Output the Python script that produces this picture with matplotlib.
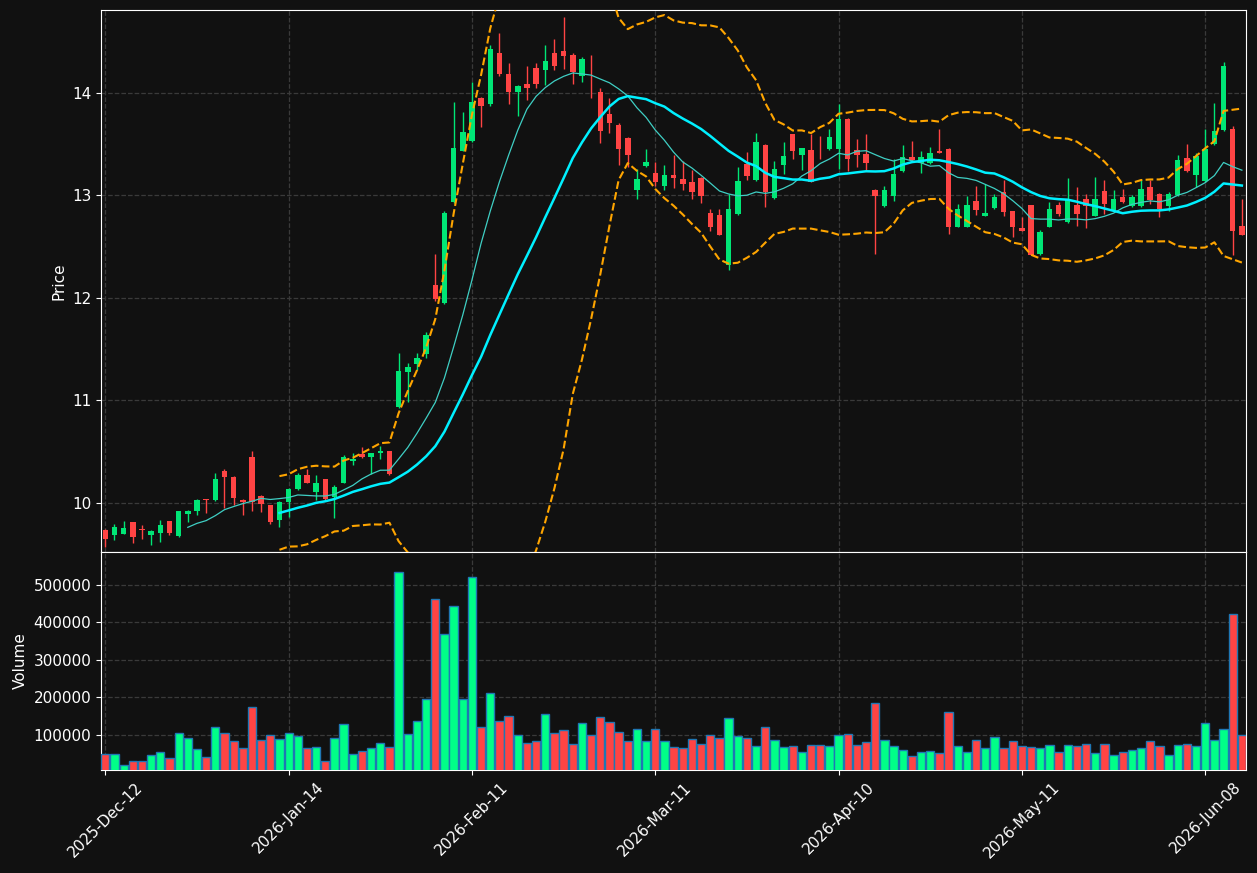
import matplotlib
matplotlib.use("Agg")
import matplotlib.pyplot as plt
from matplotlib.ticker import FuncFormatter
import numpy as np
import pandas as pd

# daily OHLC
opens = [9.731, 9.686, 9.696, 9.809, 9.744, 9.686, 9.705, 9.819, 9.676, 9.890,
         9.919, 10.032, 10.026, 10.314, 10.256, 10.032, 10.450, 10.068, 9.974, 9.828,
         10.006, 10.132, 10.275, 10.103, 10.232, 10.058, 10.190, 10.404, 10.475, 10.443,
         10.482, 10.508, 10.938, 11.278, 11.355, 11.453, 12.129, 11.948, 12.938, 13.433,
         13.530, 13.951, 13.890, 14.391, 14.187, 14.006, 14.090, 14.246, 14.220, 14.391,
         14.411, 14.375, 14.161, 14.071, 14.013, 13.799, 13.692, 13.560, 13.051, 13.291,
         13.216, 13.093, 13.200, 13.158, 13.136, 13.174, 12.828, 12.808, 12.326, 12.821,
         13.304, 13.151, 13.494, 12.977, 13.297, 13.595, 13.394, 13.439, 13.575, 13.452,
         13.449, 13.750, 13.439, 13.401, 13.058, 12.899, 12.996, 13.239, 13.378, 13.316,
         13.316, 13.436, 13.456, 12.695, 12.695, 12.941, 12.802, 12.880, 13.038, 12.844,
         12.682, 12.904, 12.424, 12.696, 12.906, 12.738, 12.906, 12.964, 12.803, 13.042,
         12.858, 12.984, 12.900, 12.900, 13.081, 13.019, 12.896, 13.000, 13.362, 13.201,
         13.139, 13.502, 13.638, 13.644, 12.702]
highs = [9.740, 9.789, 9.825, 9.810, 9.783, 9.731, 9.835, 9.820, 9.920, 9.930,
         10.040, 10.035, 10.291, 10.333, 10.260, 10.040, 10.508, 10.074, 9.975, 10.015,
         10.140, 10.291, 10.326, 10.275, 10.235, 10.177, 10.469, 10.488, 10.546, 10.490,
         10.559, 10.510, 11.459, 11.362, 11.459, 11.670, 12.427, 12.844, 13.912, 13.815,
         14.103, 13.960, 14.466, 14.582, 14.291, 14.080, 14.262, 14.291, 14.466, 14.524,
         14.741, 14.391, 14.356, 14.369, 14.051, 13.951, 13.710, 13.570, 13.262, 13.456,
         13.326, 13.301, 13.398, 13.336, 13.246, 13.180, 12.867, 12.867, 13.019, 13.281,
         13.420, 13.614, 13.500, 13.339, 13.517, 13.600, 13.460, 13.598, 13.580, 13.647,
         13.893, 13.760, 13.553, 13.595, 13.060, 13.093, 13.352, 13.494, 13.533, 13.436,
         13.475, 13.647, 13.460, 12.915, 12.996, 13.093, 13.113, 13.016, 13.155, 12.850,
         12.786, 12.910, 12.662, 12.939, 12.939, 13.168, 13.081, 13.019, 13.184, 13.146,
         13.058, 13.061, 13.000, 13.159, 13.146, 13.020, 13.029, 13.398, 13.505, 13.414,
         13.644, 13.906, 14.301, 13.680, 12.964]
lows = [9.573, 9.637, 9.696, 9.612, 9.647, 9.592, 9.618, 9.689, 9.666, 9.809,
        9.880, 9.900, 10.020, 9.951, 9.974, 9.880, 9.919, 9.909, 9.792, 9.763,
        9.860, 10.130, 10.190, 10.029, 10.032, 9.854, 10.190, 10.365, 10.440, 10.281,
        10.423, 10.268, 10.930, 10.980, 11.295, 11.417, 11.974, 11.940, 12.930, 13.430,
        13.520, 13.666, 13.874, 14.170, 13.890, 13.773, 13.932, 14.051, 14.081, 14.223,
        14.239, 14.087, 14.103, 13.951, 13.511, 13.611, 13.301, 13.278, 12.961, 13.280,
        13.093, 13.051, 13.074, 13.055, 12.961, 12.922, 12.653, 12.610, 12.271, 12.810,
        13.155, 13.140, 12.883, 12.970, 13.213, 13.355, 13.245, 13.130, 13.359, 13.440,
        13.258, 13.236, 13.278, 13.245, 12.427, 12.890, 12.944, 13.230, 13.340, 13.216,
        13.310, 13.410, 12.621, 12.690, 12.690, 12.808, 12.800, 12.870, 12.802, 12.598,
        12.650, 12.417, 12.420, 12.690, 12.803, 12.730, 12.702, 12.680, 12.800, 12.816,
        12.850, 12.930, 12.890, 12.890, 12.919, 12.786, 12.848, 12.990, 13.230, 13.084,
        13.130, 13.490, 13.630, 12.414, 12.610]
closes = [9.644, 9.760, 9.751, 9.667, 9.738, 9.722, 9.780, 9.705, 9.916, 9.925,
          10.032, 10.027, 10.236, 10.249, 10.045, 10.006, 10.010, 9.987, 9.809, 10.012,
          10.139, 10.275, 10.190, 10.197, 10.042, 10.158, 10.449, 10.430, 10.443, 10.488,
          10.508, 10.281, 11.284, 11.323, 11.418, 11.634, 11.987, 12.828, 13.459, 13.615,
          13.916, 13.870, 14.430, 14.181, 14.006, 14.071, 14.045, 14.084, 14.310, 14.262,
          14.365, 14.200, 14.336, 14.065, 13.627, 13.705, 13.453, 13.391, 13.158, 13.323,
          13.129, 13.200, 13.171, 13.113, 13.035, 12.996, 12.695, 12.617, 12.867, 13.139,
          13.190, 13.517, 13.035, 13.261, 13.381, 13.433, 13.459, 13.135, 13.569, 13.575,
          13.750, 13.355, 13.394, 13.316, 12.996, 13.058, 13.213, 13.378, 13.349, 13.378,
          13.417, 13.414, 12.695, 12.863, 12.902, 12.860, 12.825, 12.980, 12.841, 12.695,
          12.656, 12.423, 12.644, 12.864, 12.819, 12.955, 12.819, 12.900, 12.964, 12.919,
          12.964, 12.939, 12.984, 13.065, 12.958, 12.864, 13.019, 13.343, 13.239, 13.385,
          13.456, 13.625, 14.265, 12.654, 12.618]
volumes = [48880, 49000, 19350, 31880, 31900, 46200, 54250, 38150, 105260, 91840,
           62310, 40830, 122260, 105260, 83780, 64990, 175060, 86470, 99890, 89150,
           105260, 97200, 64990, 67680, 30090, 91840, 129420, 49000, 56930, 64990,
           78420, 67680, 534810, 102570, 137480, 194750, 462320, 368360, 443530, 194750,
           521390, 121370, 212650, 137480, 150900, 99890, 78420, 83780, 156270, 105260,
           113310, 75730, 132110, 99890, 148220, 134790, 107940, 83780, 116000, 83780,
           116000, 83780, 67680, 64990, 89150, 75730, 99890, 91840, 145530, 97200,
           91840, 70360, 121370, 86470, 67680, 70360, 54250, 73040, 73040, 70360,
           99890, 102570, 73040, 81100, 185800, 86470, 70360, 59620, 43510, 54250,
           56930, 51570, 161640, 70360, 54250, 86470, 64990, 94520, 64990, 83780,
           70360, 67680, 64990, 73040, 54250, 73040, 70360, 75730, 51570, 75730,
           46200, 54250, 59620, 64990, 83780, 70360, 46200, 73040, 75730, 70360,
           132110, 86470, 116000, 422050, 99890]
tick_pos = [0, 20, 40, 60, 80, 100, 120]
tick_labels = ["2025-Dec-12", "2026-Jan-14", "2026-Feb-11", "2026-Mar-11",
               "2026-Apr-10", "2026-May-11", "2026-Jun-08"]

bg = "#111111"
up_c = "#00e676"
dn_c = "#ff4444"
vol_up = "#00ff88"

df = pd.DataFrame({"o": opens, "h": highs, "l": lows, "c": closes, "v": volumes})
x = np.arange(len(df))
ma10 = df["c"].rolling(10).mean()
ma20 = df["c"].rolling(20).mean()
sd20 = df["c"].rolling(20).std()
upper = ma20 + 2 * sd20
lower = ma20 - 2 * sd20

fig = plt.figure(figsize=(12.57, 8.73), dpi=100, facecolor=bg)
ax = fig.add_axes([101 / 1257, 321 / 873, 1145 / 1257, 542 / 873])
axv = fig.add_axes([101 / 1257, 103 / 873, 1145 / 1257, 218 / 873], sharex=ax)

for a in (ax, axv):
    a.set_facecolor(bg)
    for s in a.spines.values():
        s.set_color("white")
    a.tick_params(colors="white", labelsize=11)
    a.grid(True, linestyle="--", color="#3a3a3a", linewidth=0.9)
    a.set_axisbelow(True)

# candles
up = df["c"] >= df["o"]
cols = np.where(up, up_c, dn_c)
ax.vlines(x, df["l"], df["h"], colors=cols, linewidth=1.0, zorder=2)
body_bottom = np.minimum(df["o"], df["c"])
body_h = np.maximum((df["c"] - df["o"]).abs(), 0.006)
ax.bar(x, body_h, bottom=body_bottom, width=0.6, color=cols, linewidth=0, zorder=3)

ax.plot(x, ma10, color="#3fcfc4", linewidth=0.9, zorder=4)
ax.plot(x, ma20, color="#00f0ff", linewidth=1.8, zorder=4)
ax.plot(x, upper, color="orange", linestyle="--", linewidth=1.5, zorder=4)
ax.plot(x, lower, color="orange", linestyle="--", linewidth=1.5, zorder=4)

ax.set_ylim(9.52, 14.81)
ax.set_xlim(-0.47, 124.45)
ax.set_yticks([10, 11, 12, 13, 14])
ax.set_ylabel("Price", color="white", fontsize=11)
ax.tick_params(axis="x", labelbottom=False, length=0)

# volume
vcols = np.where(up, vol_up, dn_c)
axv.bar(x, df["v"], width=0.9, color=vcols, edgecolor="#1f77b4", linewidth=1.0, zorder=3)
axv.set_ylim(6900, 587000)
axv.set_yticks([100000, 200000, 300000, 400000, 500000])
axv.yaxis.set_major_formatter(FuncFormatter(lambda v, p: f"{int(v)}"))
axv.set_ylabel("Volume", color="white", fontsize=11)
axv.set_xticks(tick_pos)
axv.set_xticklabels(tick_labels, rotation=45)

fig.savefig("out.png", dpi=100, facecolor=bg)
